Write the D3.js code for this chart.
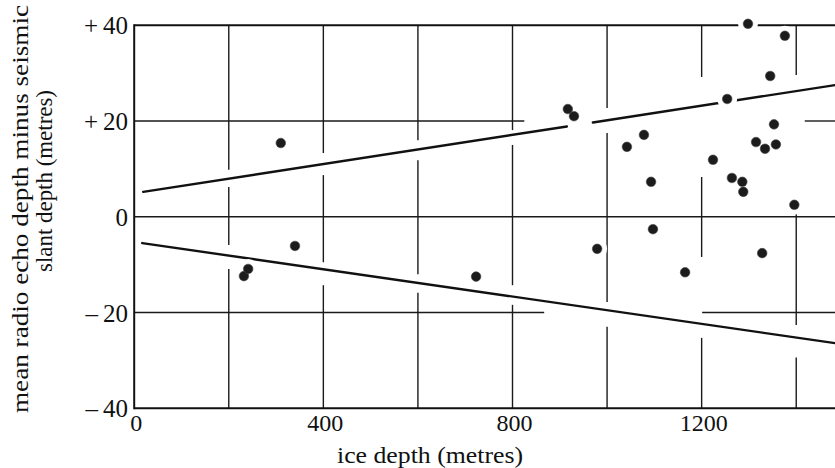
<!DOCTYPE html>
<html>

<head>
    <meta charset="utf-8" />
    <script src="https://cdn.jsdelivr.net/npm/d3@7"></script>
    <style>
        body { margin: 0; background: #fff; }
        text { font-family: "Liberation Serif", "Times New Roman", serif; fill: #111; }
    </style>
</head>

<body>
    <script>
        // ice depth (m) and radio echo minus seismic depth (m)
        var depth = [310, 232, 241, 340, 723, 917, 930, 979, 1042, 1078, 1093, 1097, 1165, 1224,
            1254, 1264, 1286, 1288, 1298, 1315, 1328, 1334, 1345, 1353, 1357, 1376, 1396];
        var diff = [15.4, -12.4, -10.9, -6.1, -12.5, 22.5, 21.0, -6.7, 14.6, 17.1, 7.3, -2.6, -11.6, 11.9,
            24.6, 8.1, 7.3, 5.2, 40.3, 15.6, -7.6, 14.2, 29.4, 19.3, 15.1, 37.8, 2.5];

        // the two limit lines [x, y] at each end, and where the upper one is broken
        var upperLine = [[19, 5.2], [1482, 27.5]];
        var lowerLine = [[17, -5.5], [1482, -26.4]];
        var upperLineGaps = [[915, 970]];

        var xTicks = [0, 400, 800, 1200];
        var yTicks = [40, 20, 0, -20, -40];
        var yTickLabels = ['+\u200940', '+\u200920', '0', '\u2013\u200920', '\u2013\u200940'];

        // grid lines and the breaks the draughtsman left in them
        var xGrid = [200, 400, 600, 800, 1000, 1200, 1400];
        var xGridGaps = [
            [[6.2, 9.8], [-10.9, -5.9]],
            [[8.7, 13.3], [-14.3, -9.5]],
            [[11.8, 16.0], [-15.9, -12.0]],
            [[15.0, 18.1], [-18.4, -14.3]],
            [[17.5, 22.7], [-23.0, -17.8]],
            [[8.3, 29.2], [-25.3, -8.4]],
            [[1.4, 29.6], [-29.4, -22.6]]
        ];
        var yGrid = [20, 0, -20];
        var yGridGaps = [[[825, 1418]], [], [[867, 1201]]];

        var width = 835;
        var height = 468;

        var x = d3.scaleLinear().domain([0, 1482]).range([134.2, 835]);
        var y = d3.scaleLinear().domain([-40, 40]).range([408.25, 25.25]);

        var svg = d3.select('body')
            .append('svg')
            .attr('width', width)
            .attr('height', height)
            .style('background', '#fff');

        // split [lo, hi] into pieces around the gaps
        function pieces(lo, hi, gaps) {
            var out = [];
            var start = lo;
            gaps.slice().sort(function (a, b) { return a[0] - b[0]; }).forEach(function (g) {
                out.push([start, g[0]]);
                start = g[1];
            });
            out.push([start, hi]);
            return out;
        }

        var grid = svg.append('g')
            .attr('stroke', '#1a1a1a')
            .attr('stroke-width', 1.4);

        xGrid.forEach(function (v, i) {
            pieces(-40, 40, xGridGaps[i]).forEach(function (p) {
                grid.append('line')
                    .attr('x1', x(v)).attr('x2', x(v))
                    .attr('y1', y(p[0])).attr('y2', y(p[1]));
            });
        });

        yGrid.forEach(function (v, i) {
            pieces(0, 1482, yGridGaps[i]).forEach(function (p) {
                grid.append('line')
                    .attr('x1', x(p[0])).attr('x2', x(p[1]))
                    .attr('y1', y(v)).attr('y2', y(v));
            });
        });

        // frame: left, top and bottom
        var frame = svg.append('g')
            .attr('stroke', '#111')
            .attr('stroke-width', 2)
            .attr('fill', 'none');
        frame.append('line')
            .attr('x1', x(0)).attr('x2', x(0))
            .attr('y1', y(40) - 1).attr('y2', y(-40) + 1);
        frame.append('line')
            .attr('x1', x(0)).attr('x2', x(1482))
            .attr('y1', y(40)).attr('y2', y(40));
        frame.append('line')
            .attr('x1', x(0)).attr('x2', x(1482))
            .attr('y1', y(-40)).attr('y2', y(-40));

        // limit lines
        function lineAt(l, xv) {
            var t = (xv - l[0][0]) / (l[1][0] - l[0][0]);
            return l[0][1] + t * (l[1][1] - l[0][1]);
        }
        var fits = svg.append('g')
            .attr('stroke', '#111')
            .attr('stroke-width', 2.4)
            .attr('stroke-linecap', 'round');
        pieces(upperLine[0][0], upperLine[1][0], upperLineGaps).forEach(function (p) {
            fits.append('line')
                .attr('x1', x(p[0])).attr('y1', y(lineAt(upperLine, p[0])))
                .attr('x2', x(p[1])).attr('y2', y(lineAt(upperLine, p[1])));
        });
        fits.append('line')
            .attr('x1', x(lowerLine[0][0])).attr('y1', y(lowerLine[0][1]))
            .attr('x2', x(lowerLine[1][0])).attr('y2', y(lowerLine[1][1]));

        // points: white halo first so lines stop short of them
        var pts = d3.range(depth.length);
        svg.append('g').selectAll('circle')
            .data(pts)
            .enter()
            .append('circle')
            .attr('cx', function (i) { return x(depth[i]); })
            .attr('cy', function (i) { return y(diff[i]); })
            .attr('r', 10)
            .attr('fill', '#fff');
        svg.append('g').selectAll('circle')
            .data(pts)
            .enter()
            .append('circle')
            .attr('cx', function (i) { return x(depth[i]); })
            .attr('cy', function (i) { return y(diff[i]); })
            .attr('r', 4.8)
            .attr('fill', '#1c1c1c')
            .attr('stroke', '#444')
            .attr('stroke-width', 0.6);

        // tick labels
        svg.append('g').selectAll('text')
            .data(yTicks)
            .enter()
            .append('text')
            .text(function (d, i) { return yTickLabels[i]; })
            .attr('x', 128)
            .attr('y', function (d) { return y(d) + 9; })
            .attr('text-anchor', 'end')
            .attr('font-size', 25);

        svg.append('g').selectAll('text')
            .data(xTicks)
            .enter()
            .append('text')
            .text(function (d) { return d; })
            .attr('x', function (d) { return x(d) + 2; })
            .attr('y', 431)
            .attr('text-anchor', 'middle')
            .attr('font-size', 24);

        // axis titles
        svg.append('text')
            .text('ice depth (metres)')
            .attr('x', 430)
            .attr('y', 463)
            .attr('text-anchor', 'middle')
            .attr('font-size', 24)
            .attr('textLength', 186)
            .attr('lengthAdjust', 'spacingAndGlyphs');

        svg.append('text')
            .text('mean radio echo depth minus seismic')
            .attr('transform', 'translate(28,209) rotate(-90)')
            .attr('text-anchor', 'middle')
            .attr('font-size', 24)
            .attr('textLength', 408)
            .attr('lengthAdjust', 'spacingAndGlyphs');

        svg.append('text')
            .text('slant depth (metres)')
            .attr('transform', 'translate(52,181) rotate(-90)')
            .attr('text-anchor', 'middle')
            .attr('font-size', 24)
            .attr('textLength', 182)
            .attr('lengthAdjust', 'spacingAndGlyphs');
    </script>
</body>

</html>
